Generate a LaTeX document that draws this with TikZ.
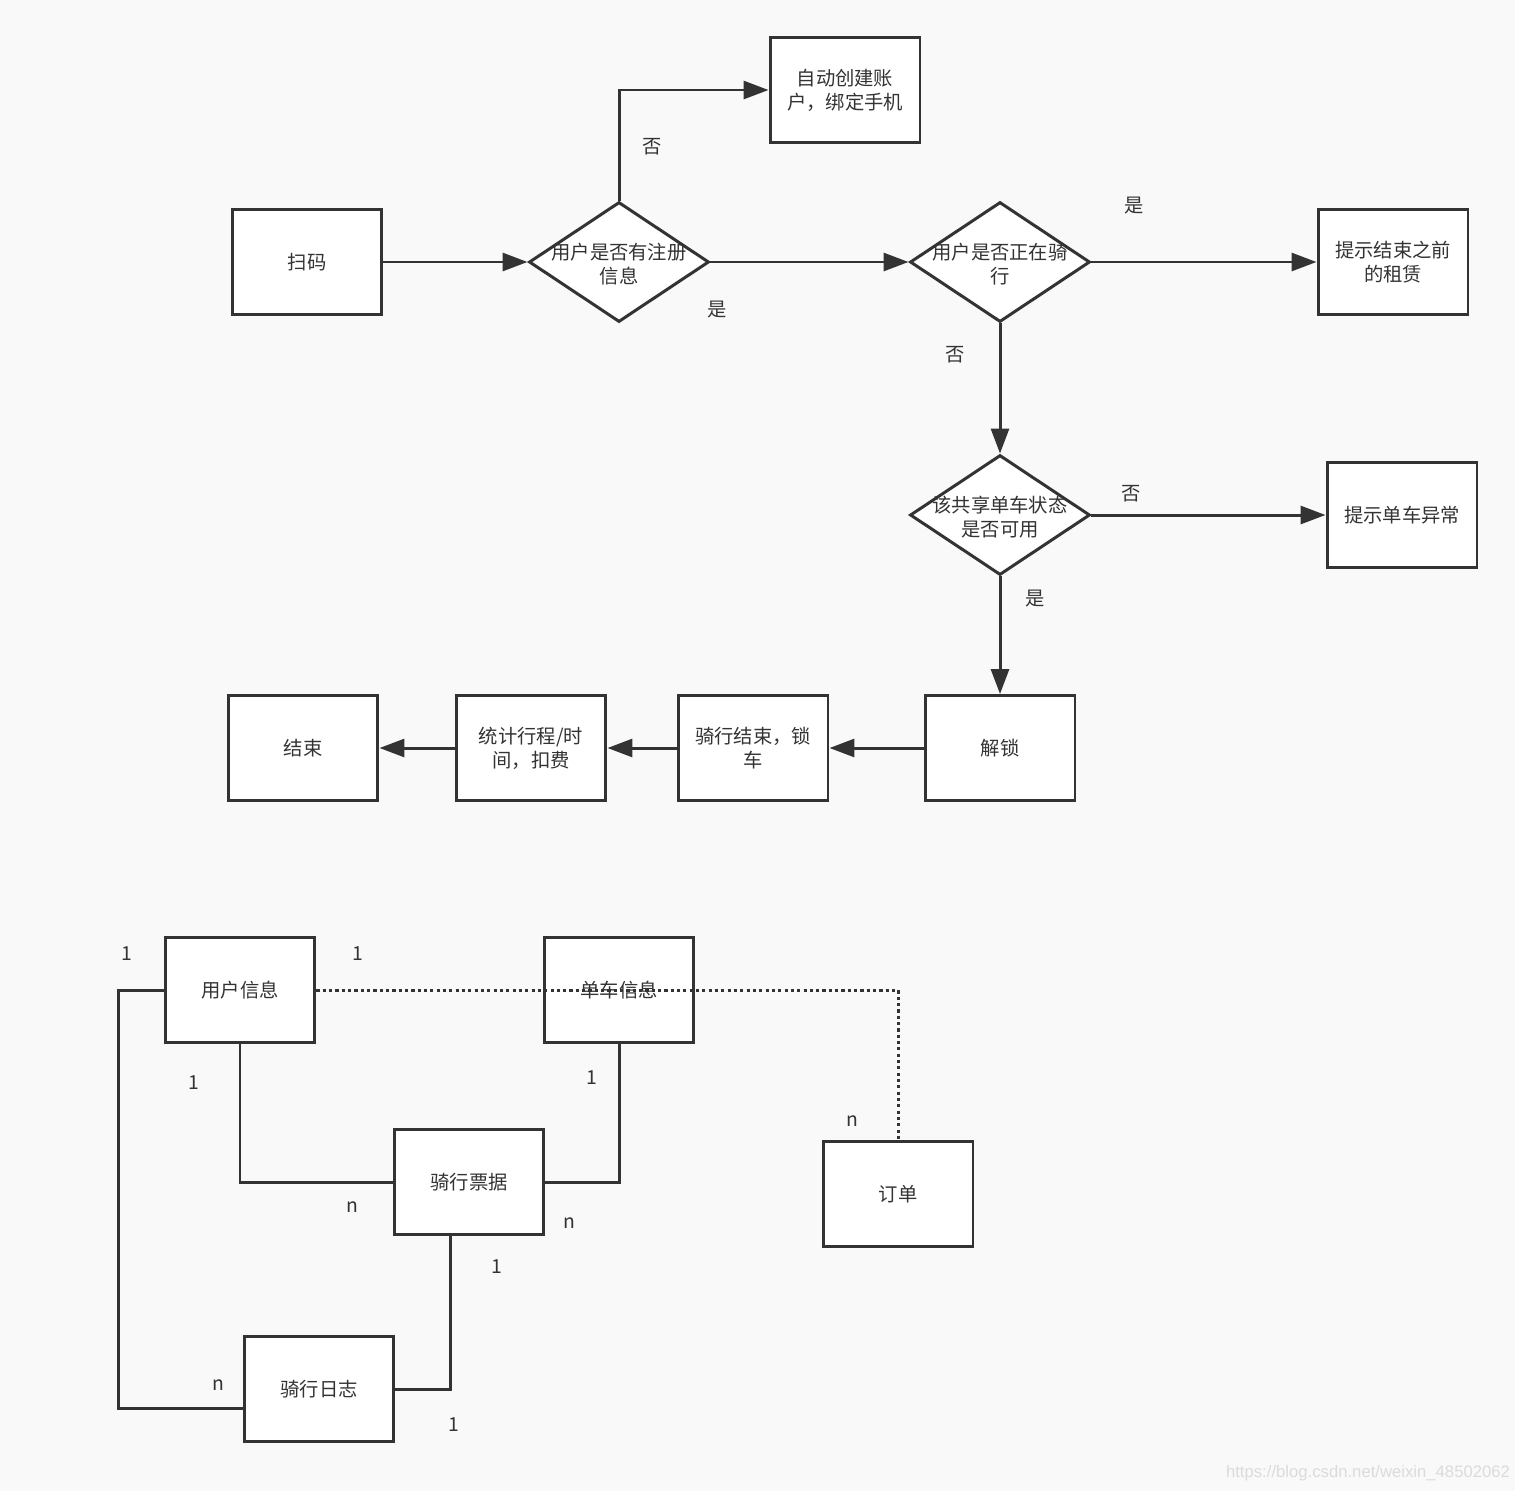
\documentclass[tikz,border=0pt]{standalone}
\usepackage{fontspec}
\setmainfont{Noto Sans CJK SC}
\newfontfamily\urlfont{Liberation Sans}
\usepackage{xcolor}
\usetikzlibrary{arrows.meta,shapes.geometric,positioning,calc}

\definecolor{ink}{HTML}{333333}
\definecolor{paper}{HTML}{F9F9F9}

\begin{document}
\begin{tikzpicture}[x=0.02cm, y=-0.02cm, >={Triangle[length=0.5cm, width=0.36cm]}]

    % Styles
    \tikzset{
        box/.style={draw=ink, fill=white, line width=1.7pt, minimum width=3cm,
            minimum height=2.1cm, inner sep=0pt, align=center, text=ink},
        decision/.style={diamond, draw=ink, fill=white, line width=1.7pt,
            minimum width=3.6cm, minimum height=2.4cm, inner sep=0pt},
        dtext/.style={align=center, text=ink, inner sep=0pt, yshift=-0.05cm},
        flow/.style={draw=ink, line width=1.7pt},
        link/.style={draw=ink, line width=1.7pt},
        dotlink/.style={draw=ink, line width=1.7pt, dash pattern=on 1.8pt off 1.8pt},
        tag/.style={text=ink}
    }
    \fontsize{11pt}{13.6pt}\selectfont

    % Background
    \fill[paper] (0,0) rectangle (1515,1491);
    \useasboundingbox (0,0) rectangle (1515,1491);

    % Flow chart
    \node[box] (scan) at (307,262) {扫码};
    \node[decision, label={[dtext]center:用户是否有注册\\信息}] (reg) at (619,262) {};
    \node[box] (auto) at (845,90) {自动创建账\\户，绑定手机};
    \node[decision, label={[dtext]center:用户是否正在骑\\行}] (ride) at (1000,262) {};
    \node[box] (prev) at (1393,262) {提示结束之前\\的租赁};
    \node[decision, label={[dtext]center:该共享单车状态\\是否可用}] (avail) at (1000,515) {};
    \node[box] (abn) at (1402,515) {提示单车异常};
    \node[box] (unlock) at (1000,748) {解锁};
    \node[box] (lock) at (753,748) {骑行结束，锁\\车};
    \node[box] (bill) at (531,748) {统计行程/时\\间，扣费};
    \node[box] (done) at (303,748) {结束};

    \draw[flow,->] (scan) -- (reg);
    \draw[flow,->] (reg.north) |- (auto.west);
    \draw[flow,->] (reg) -- (ride);
    \draw[flow,->] (ride) -- (prev);
    \draw[flow,->] (ride) -- (avail);
    \draw[flow,->] (avail) -- (abn);
    \draw[flow,->] (avail) -- (unlock);
    \draw[flow,->] (unlock) -- (lock);
    \draw[flow,->] (lock) -- (bill);
    \draw[flow,->] (bill) -- (done);

    \node[tag] (no1) at (652,147) {否};
    \node[tag] (yes1) at (717,310) {是};
    \node[tag] (yes2) at (1134,206) {是};
    \node[tag] (no2) at (955,355) {否};
    \node[tag] (no3) at (1131,494) {否};
    \node[tag] (yes3) at (1035,599) {是};

    % Entity relations
    \node[box] (user) at (240,990) {用户信息};
    \node[box] (bike) at (619,990) {单车信息};
    \node[box] (ticket) at (469,1182) {骑行票据};
    \node[box] (order) at (898,1194) {订单};
    \node[box] (log) at (319,1389) {骑行日志};

    \draw[link] (user.west) -- ++(-45,0) |- ([yshift=-0.38cm]log.west);
    \draw[link] (user.south) |- (ticket.west);
    \draw[link] (bike.south) |- (ticket.east);
    \draw[link] ([xshift=-0.38cm]ticket.south) |- (log.east);
    \draw[dotlink] (user.east) -| (order.north);

    \node[tag] (c1) at (127,954) {1};
    \node[tag] (c2) at (358,954) {1};
    \node[tag] (c3) at (194,1083) {1};
    \node[tag] (c4) at (592,1078) {1};
    \node[tag] (c5) at (352,1207) {n};
    \node[tag] (c6) at (569,1223) {n};
    \node[tag] (c7) at (497,1267) {1};
    \node[tag] (c8) at (218,1385) {n};
    \node[tag] (c9) at (454,1425) {1};
    \node[tag] (c10) at (852,1121) {n};

    % Watermark
    \node[text=black!14, font=\urlfont\fontsize{9.5pt}{11pt}\selectfont] (mark) at (1368,1473) {https://blog.csdn.net/weixin\_48502062};

\end{tikzpicture}
\end{document}
